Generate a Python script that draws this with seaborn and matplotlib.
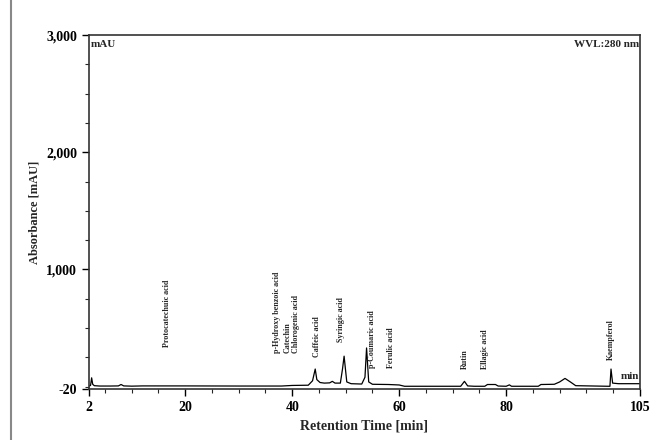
import matplotlib
matplotlib.use("Agg")
import matplotlib.pyplot as plt
import seaborn as sns
import pandas as pd
from matplotlib.lines import Line2D
from matplotlib.ticker import MultipleLocator

# chromatogram trace (time in min, absorbance in mAU)
times = [2.0, 2.3, 2.5, 2.7, 3.0, 4.0, 6.0, 7.5, 8.0, 8.5, 10.0, 12.0, 20.0, 30.0, 38.0,
         40.0, 43.0, 43.8, 44.3, 44.6, 45.2, 46.0, 47.0, 47.5, 48.0, 49.0, 49.4, 49.7, 50.2,
         51.0, 53.0, 53.6, 53.9, 54.3, 55.0, 58.0, 60.0, 61.0, 71.5, 72.2, 72.8, 74.0,
         76.0, 76.5, 78.0, 78.5, 80.0, 80.6, 81.0, 86.0, 86.5, 89.0, 90.0, 91.0, 92.0,
         93.0, 99.0, 99.4, 99.6, 99.9, 101.0, 105.0]
absorb = [5, 10, 75, 20, 8, 5, 5, 6, 18, 6, 4, 6, 6, 5, 5,
          10, 12, 50, 150, 60, 35, 30, 32, 45, 30, 30, 150, 260, 40,
          25, 22, 80, 330, 40, 20, 18, 14, 3, 3, 45, 6, 3,
          3, 18, 18, 5, 3, 15, 3, 3, 18, 20, 40, 70, 40,
          8, 3, 3, 150, 30, 25, 25]

peak_names = ["Protocatechuic acid", "p-Hydroxy benzoic acid", "Catechin", "Chlorogenic acid",
              "Caffeic acid", "Syringic acid", "p-Coumaric acid", "Ferulic acid",
              "Rutin", "Ellagic acid", "Kaempferol"]
peak_times = [16.6, 37.1, 39.1, 40.7, 44.6, 49.1, 54.9, 58.4, 72.3, 76.0, 99.6]
label_base = [340, 290, 290, 290, 250, 380, 160, 160, 150, 150, 230]

df = pd.DataFrame({"time": times, "mAU": absorb})

sns.set_style("ticks")
plt.rcParams["font.family"] = ["Liberation Serif", "DejaVu Serif"]

fig = plt.figure(figsize=(6.59, 4.40), dpi=100)
ax = fig.add_axes([0.135, 0.116, 0.836, 0.804])

sns.lineplot(data=df, x="time", y="mAU", ax=ax, color="black", linewidth=0.9,
             estimator=None)

ax.set_xlim(2, 105)
ax.set_ylim(-20, 3000)
ax.set_xticks([2, 20, 40, 60, 80, 105])
ax.set_yticks([-20, 1000, 2000, 3000])
ax.set_yticklabels(["-20", "1,000", "2,000", "3,000"])
ax.xaxis.set_minor_locator(MultipleLocator(5))
ax.yaxis.set_minor_locator(MultipleLocator(250))
ax.tick_params(axis="both", which="major", length=5, width=1, labelsize=10, colors="black")
ax.tick_params(axis="both", which="minor", length=3, width=0.8)
for lab in ax.get_xticklabels() + ax.get_yticklabels():
    lab.set_fontweight("bold")
for s in ax.spines.values():
    s.set_linewidth(1.2)
    s.set_color("#333333")

ax.set_xlabel("Retention Time [min]", fontsize=10, fontweight="bold")
ax.set_ylabel("Absorbance [mAU]", fontsize=9, fontweight="bold")

for name, t, b in zip(peak_names, peak_times, label_base):
    ax.text(t, b, name, rotation=90, ha="center", va="bottom", fontsize=5.8,
            fontweight="bold")

ax.text(2.3, 2960, "mAU", ha="left", va="top", fontsize=8, fontweight="bold")
ax.text(104.8, 2960, "WVL:280 nm", ha="right", va="top", fontsize=8, fontweight="bold")
ax.text(104.8, 50, "min", ha="right", va="bottom", fontsize=8, fontweight="bold")

fig.add_artist(Line2D([0.016, 0.016], [0, 1], transform=fig.transFigure,
                      color="#888888", linewidth=1.5))

fig.savefig("out.png", dpi=100)
